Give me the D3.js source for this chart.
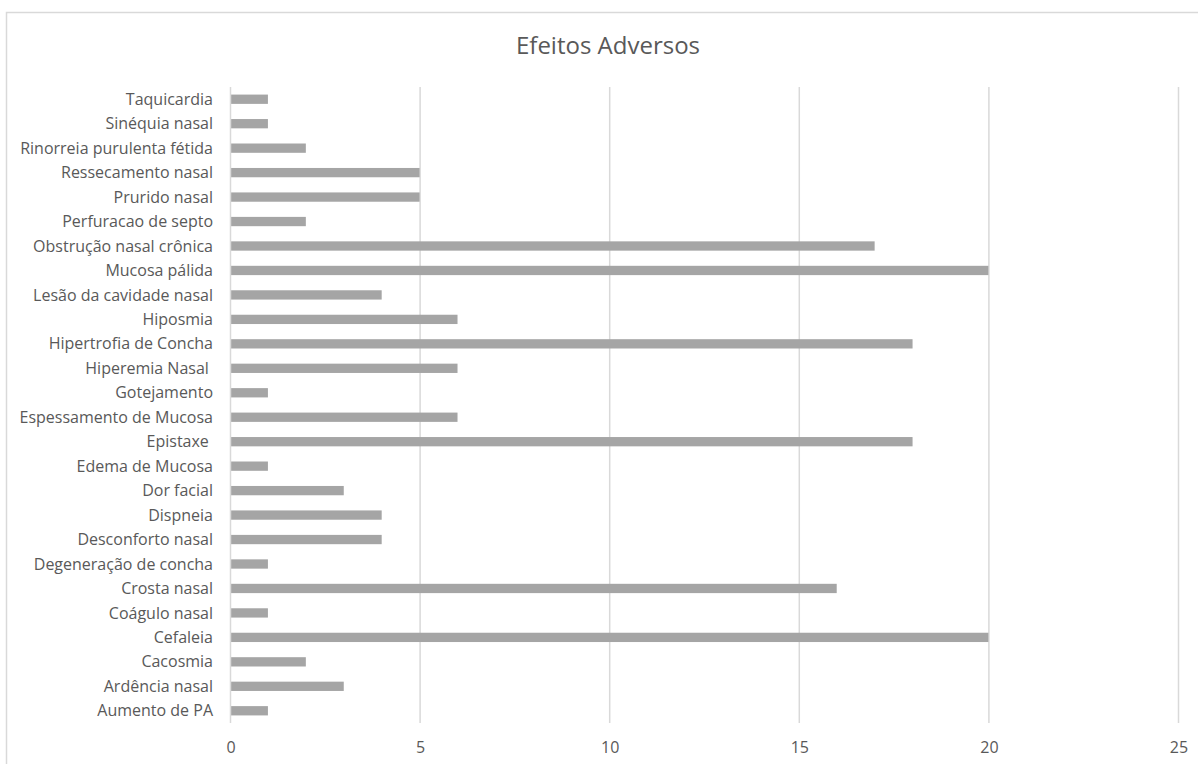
<!DOCTYPE html>
<html>
<head>
<meta charset="utf-8">
<script src="https://cdn.jsdelivr.net/npm/d3@7"></script>
<style>
  html, body { margin: 0; padding: 0; background: #fff; }
  svg { display: block; }
  text { font-family: "Open Sans", "Noto Sans", sans-serif; fill: #595959; }
  .cat { white-space: pre; }
</style>
</head>
<body>
<svg id="chart" width="1198" height="764"></svg>
<script>
// Adverse effects, listed bottom to top as they appear on the chart
const categories = [
  "Aumento de PA", "Ardência nasal", "Cacosmia", "Cefaleia", "Coágulo nasal",
  "Crosta nasal", "Degeneração de concha", "Desconforto nasal", "Dispneia",
  "Dor facial", "Edema de Mucosa", "Epistaxe ", "Espessamento de Mucosa",
  "Gotejamento", "Hiperemia Nasal ", "Hipertrofia de Concha", "Hiposmia",
  "Lesão da cavidade nasal", "Mucosa pálida", "Obstrução nasal crônica",
  "Perfuracao de septo", "Prurido nasal", "Ressecamento nasal",
  "Rinorreia purulenta fétida", "Sinéquia nasal", "Taquicardia"
];
const counts = [1, 3, 2, 20, 1, 16, 1, 4, 4, 3, 1, 18, 6, 1, 6, 18, 6, 4, 20, 17, 2, 5, 5, 2, 1, 1];
const xTicks = [0, 5, 10, 15, 20, 25];
const chartTitle = "Efeitos Adversos";

const svg = d3.select("#chart");

// outer chart frame
svg.append("rect")
  .attr("x", 6.5).attr("y", 12.5)
  .attr("width", 1210).attr("height", 800)
  .attr("fill", "none").attr("stroke", "#d9d9d9").attr("stroke-width", 1.5);

const plot = { left: 230, right: 1178, top: 87, bottom: 723 };

const x = d3.scaleLinear().domain([0, 25]).range([plot.left, plot.right]);
const y = d3.scaleBand()
  .domain(categories.slice().reverse())
  .range([plot.top, plot.bottom])
  .paddingInner(0.62)
  .paddingOuter(0.31);

// vertical gridlines
svg.append("g")
  .selectAll("line")
  .data(xTicks.slice(1))
  .join("line")
  .attr("x1", d => x(d) + 0.5).attr("x2", d => x(d) + 0.5)
  .attr("y1", plot.top).attr("y2", plot.bottom)
  .attr("stroke", "#d9d9d9").attr("stroke-width", 1.5);

// bars
svg.append("g")
  .selectAll("rect")
  .data(categories.map((c, i) => ({ c, v: counts[i] })))
  .join("rect")
  .attr("x", x(0) + 1)
  .attr("y", d => y(d.c))
  .attr("width", d => x(d.v) - x(0) - 1)
  .attr("height", y.bandwidth())
  .attr("fill", "#a5a5a5");

// category axis line
svg.append("line")
  .attr("x1", plot.left + 0.5).attr("x2", plot.left + 0.5)
  .attr("y1", plot.top).attr("y2", plot.bottom)
  .attr("stroke", "#d9d9d9").attr("stroke-width", 1.5);

// category labels (trailing spaces kept as in the source data)
svg.append("g")
  .selectAll("text")
  .data(categories)
  .join("text")
  .attr("class", "cat")
  .attr("x", plot.left - 17)
  .attr("y", d => y(d) + y.bandwidth() / 2)
  .attr("dy", "0.35em")
  .attr("text-anchor", "end")
  .attr("font-size", 16)
  .text(d => d);

// value axis labels
svg.append("g")
  .selectAll("text")
  .data(xTicks)
  .join("text")
  .attr("x", d => x(d) + 1)
  .attr("y", 747)
  .attr("dy", "0.35em")
  .attr("text-anchor", "middle")
  .attr("font-size", 16)
  .text(d => d);

// title
svg.append("text")
  .attr("x", 608)
  .attr("y", 46)
  .attr("dy", "0.35em")
  .attr("text-anchor", "middle")
  .attr("font-size", 24)
  .text(chartTitle);
</script>
</body>
</html>
